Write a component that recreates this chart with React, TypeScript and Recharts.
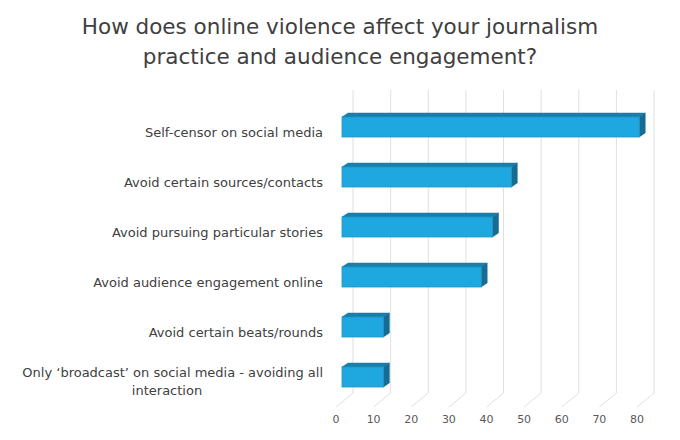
import { BarChart, Bar, XAxis, YAxis, CartesianGrid } from "recharts";

const categories = [
  "Self-censor on social media",
  "Avoid certain sources/contacts ",
  "Avoid pursuing particular stories",
  "Avoid audience engagement online",
  "Avoid certain beats/rounds",
  "Only ‘broadcast’ on social media - avoiding all interaction",
];
const values = [79, 45, 40, 37, 11, 11];
const xTicks = [0, 10, 20, 30, 40, 50, 60, 70, 80];

const data = categories.map((name, i) => ({ name, value: values[i] }));

const FONT = "'DejaVu Sans', sans-serif";
const DEPTH_X = 6;
const DEPTH_Y = 4;
// offset of the back wall relative to the front of the plot
const WALL_X = 11;

// fake-3D bar: front face + top face + right side face
function Bar3D(props: any) {
  const { x, y, width, height } = props;
  if (width == null || width <= 0) return null;
  const top = `${x},${y} ${x + DEPTH_X},${y - DEPTH_Y} ${x + width + DEPTH_X},${y - DEPTH_Y} ${x + width},${y}`;
  const side = `${x + width},${y} ${x + width + DEPTH_X},${y - DEPTH_Y} ${x + width + DEPTH_X},${y + height - DEPTH_Y} ${x + width},${y + height}`;
  return (
    <g>
      <polygon points={top} fill="#1B7EA8" stroke="#1B7EA8" strokeWidth={0.5} />
      <polygon points={side} fill="#166C91" stroke="#166C91" strokeWidth={0.5} />
      <rect x={x} y={y} width={width} height={height} fill="#1FA8E0" stroke="#1A95C8" strokeWidth={0.8} />
    </g>
  );
}

// x tick draws the floor line and the label
function XTick(props: any) {
  const { x, y, payload } = props;
  return (
    <g>
      <line x1={x - 6} y1={y + 5} x2={x + WALL_X} y2={y - 9} stroke="#E0E0E0" strokeWidth={1} />
      <text x={x - 6} y={y + 17} textAnchor="middle" dominantBaseline="central" fill="#595959" fontSize={11} fontFamily={FONT}>
        {payload.value}
      </text>
    </g>
  );
}

function YTick(props: any) {
  const { x, y, payload } = props;
  const label: string = payload.value;
  if (label.startsWith("Only")) {
    return (
      <text x={x} y={y} textAnchor="end" fill="#404040" fontSize={13} fontFamily={FONT}>
        <tspan x={x} dy={0}>Only ‘broadcast’ on social media - avoiding all</tspan>
        <tspan x={x - 156} dy={18} textAnchor="middle">interaction</tspan>
      </text>
    );
  }
  return (
    <text x={x} y={y + 5} textAnchor="end" dominantBaseline="central" fill="#404040" fontSize={13} fontFamily={FONT}>
      {label}
    </text>
  );
}

export default function App() {
  return (
    <div style={{ position: "absolute", left: 0, top: 0, width: 680, height: 440, background: "#fff", fontFamily: FONT }}>
      <div
        style={{
          position: "absolute",
          left: 0,
          top: 12,
          width: 680,
          textAlign: "center",
          color: "#404040",
          fontSize: 21.5,
          lineHeight: "30px",
        }}
      >
        How does online violence affect your journalism
        <br />
        practice and audience engagement?
      </div>
      <div style={{ position: "absolute", left: 0, top: 0 }}>
        <BarChart
          width={680}
          height={440}
          data={data}
          layout="vertical"
          margin={{ top: 102, right: 37, bottom: 0, left: 0 }}
          barSize={20}
        >
          <CartesianGrid
            horizontal={false}
            y={90}
            height={303}
            stroke="#E0E0E0"
            verticalCoordinatesGenerator={({ offset }: any) =>
              xTicks.map((t) => offset.left + (t / 80) * offset.width + WALL_X)
            }
          />
          <XAxis
            type="number"
            domain={[0, 80]}
            ticks={xTicks}
            interval={0}
            axisLine={false}
            tickLine={false}
            tickSize={0}
            tickMargin={0}
            height={38}
            tick={<XTick />}
          />
          <YAxis
            type="category"
            dataKey="name"
            width={342}
            axisLine={false}
            tickLine={false}
            tickSize={0}
            tickMargin={19}
            interval={0}
            tick={<YTick />}
          />
          <Bar dataKey="value" shape={<Bar3D />} isAnimationActive={false} />
        </BarChart>
      </div>
    </div>
  );
}
